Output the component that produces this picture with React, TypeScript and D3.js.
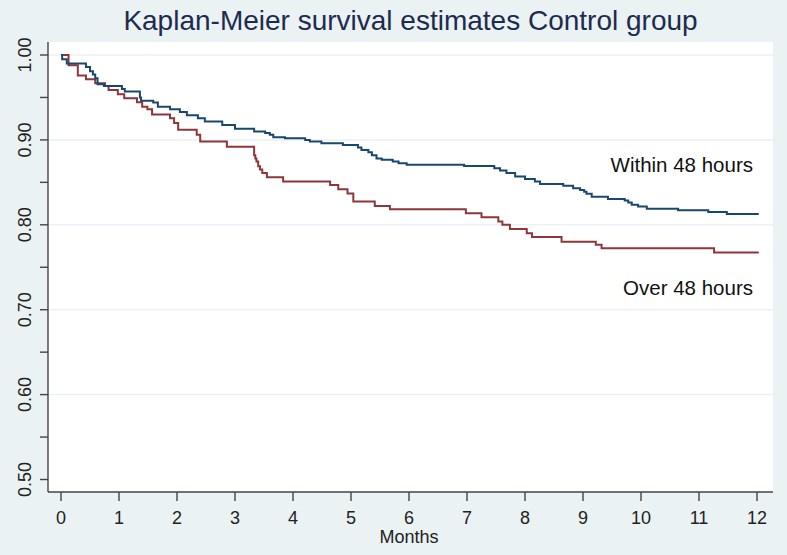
import React from "react";
import * as d3 from "d3";

const title = "Kaplan-Meier survival estimates Control group";
const xLabel = "Months";
const xTicks = [0, 1, 2, 3, 4, 5, 6, 7, 8, 9, 10, 11, 12];
const yTicks = [0.5, 0.6, 0.7, 0.8, 0.9, 1.0];
const yMinorTicks = [0.55, 0.65, 0.75, 0.85, 0.95];
const gridValues = [0.6, 0.7, 0.8, 0.9, 1.0];

const seriesNames = ["Within 48 hours", "Over 48 hours"];

// [month, survival after the step]
const withinSteps: [number, number][] = [
  [0, 1.0], [0.02, 0.995], [0.1, 0.99], [0.43, 0.986], [0.5, 0.981], [0.55, 0.977],
  [0.59, 0.9726], [0.63, 0.9655], [0.74, 0.9635], [1.05, 0.96], [1.1, 0.957],
  [1.36, 0.95], [1.38, 0.946], [1.59, 0.944], [1.67, 0.939], [1.88, 0.936],
  [2.05, 0.933], [2.17, 0.929], [2.36, 0.9255], [2.48, 0.9216], [2.78, 0.9176],
  [3.0, 0.913], [3.33, 0.91], [3.52, 0.908], [3.6, 0.906], [3.66, 0.903],
  [3.86, 0.902], [4.21, 0.9], [4.29, 0.898], [4.49, 0.896], [4.86, 0.894],
  [5.12, 0.891], [5.18, 0.888], [5.3, 0.8855], [5.36, 0.882], [5.44, 0.878],
  [5.53, 0.8765], [5.72, 0.8745], [5.82, 0.8725], [5.96, 0.8706], [6.95, 0.8694],
  [7.47, 0.8667], [7.57, 0.864], [7.68, 0.861], [7.83, 0.857], [8.0, 0.854],
  [8.17, 0.851], [8.26, 0.848], [8.66, 0.846], [8.83, 0.843], [8.95, 0.841],
  [9.02, 0.839], [9.06, 0.8365], [9.15, 0.833], [9.43, 0.8305], [9.72, 0.8286],
  [9.78, 0.8263], [9.84, 0.8235], [9.95, 0.8216], [10.1, 0.819], [10.64, 0.817],
  [11.16, 0.815], [11.48, 0.8126], [12.03, 0.8126],
];

const overSteps: [number, number][] = [
  [0, 1.0], [0.13, 0.988], [0.29, 0.976], [0.43, 0.9714], [0.59, 0.9667],
  [0.76, 0.9635], [0.82, 0.9588], [0.98, 0.9537], [1.09, 0.949], [1.31, 0.9443],
  [1.4, 0.939], [1.49, 0.936], [1.57, 0.93], [1.88, 0.9255], [1.95, 0.92],
  [2.02, 0.912], [2.34, 0.906], [2.4, 0.898], [2.86, 0.892], [3.33, 0.882],
  [3.35, 0.878], [3.37, 0.8745], [3.4, 0.869], [3.43, 0.865], [3.47, 0.861],
  [3.55, 0.856], [3.83, 0.851], [4.64, 0.847], [4.78, 0.842], [4.94, 0.837],
  [5.04, 0.8275], [5.41, 0.822], [5.67, 0.8184], [6.98, 0.8137], [7.25, 0.809],
  [7.54, 0.804], [7.61, 0.8], [7.74, 0.795], [8.03, 0.79], [8.12, 0.7855],
  [8.63, 0.78], [9.22, 0.7765], [9.32, 0.7725], [11.26, 0.7674], [12.03, 0.7674],
];

const W = 787;
const H = 555;
const plotLeft = 48;
const plotRight = 773;
const plotTop = 42;
const plotBottom = 492;

const BG = "#eaf2f3";
const FONT = "'Liberation Sans', Arial, sans-serif";
const NAVY = "#1a476f";
const MAROON = "#90353b";

export default function App() {
  const x = d3.scaleLinear().domain([0, 12]).range([61, 757]);
  const y = d3.scaleLinear().domain([0.5, 1.0]).range([479.5, 55]);
  const line = d3
    .line<[number, number]>()
    .x((d) => x(d[0]))
    .y((d) => y(d[1]))
    .curve(d3.curveStepAfter);

  return (
    <div style={{ position: "fixed", left: 0, top: 0 }}>
      <svg width={W} height={H} style={{ display: "block" }}>
        <rect x={0} y={0} width={W} height={H} fill={BG} />
        <rect
          x={plotLeft}
          y={plotTop}
          width={plotRight - plotLeft}
          height={plotBottom - plotTop}
          fill="#ffffff"
        />
        {gridValues.map((v) => (
          <line
            key={"g" + v}
            x1={plotLeft}
            x2={plotRight}
            y1={y(v)}
            y2={y(v)}
            stroke={BG}
            strokeWidth={1.5}
          />
        ))}
        <text
          x={(plotLeft + plotRight) / 2}
          y={30}
          textAnchor="middle"
          fontFamily={FONT}
          fontSize={28}
          fill="#1d2b50"
        >
          {title}
        </text>

        {/* y axis */}
        <line x1={plotLeft} x2={plotLeft} y1={plotTop} y2={plotBottom} stroke="#444" strokeWidth={1.4} />
        {yTicks.map((v) => (
          <g key={"yt" + v}>
            <line x1={plotLeft - 8} x2={plotLeft} y1={y(v)} y2={y(v)} stroke="#444" strokeWidth={1.4} />
            <text
              transform={`translate(31,${y(v)}) rotate(-90)`}
              textAnchor="middle"
              fontFamily={FONT}
              fontSize={18}
              fill="#222"
            >
              {v.toFixed(2)}
            </text>
          </g>
        ))}
        {yMinorTicks.map((v) => (
          <line key={"ym" + v} x1={plotLeft - 8} x2={plotLeft} y1={y(v)} y2={y(v)} stroke="#444" strokeWidth={1.4} />
        ))}

        {/* x axis */}
        <line x1={plotLeft} x2={plotRight} y1={plotBottom} y2={plotBottom} stroke="#444" strokeWidth={1.4} />
        {xTicks.map((v) => (
          <g key={"xt" + v}>
            <line x1={x(v)} x2={x(v)} y1={plotBottom} y2={plotBottom + 9} stroke="#444" strokeWidth={1.4} />
            <text
              x={x(v)}
              y={524}
              textAnchor="middle"
              fontFamily={FONT}
              fontSize={18}
              fill="#222"
            >
              {v}
            </text>
          </g>
        ))}
        <text x={x(6)} y={543} textAnchor="middle" fontFamily={FONT} fontSize={18} fill="#222">
          {xLabel}
        </text>

        <path d={line(overSteps) || ""} fill="none" stroke={MAROON} strokeWidth={2} />
        <path d={line(withinSteps) || ""} fill="none" stroke={NAVY} strokeWidth={2} />

        <text x={753} y={172} textAnchor="end" fontFamily={FONT} fontSize={20.5} fill="#111">
          {seriesNames[0]}
        </text>
        <text x={753} y={295} textAnchor="end" fontFamily={FONT} fontSize={20.5} fill="#111">
          {seriesNames[1]}
        </text>
      </svg>
    </div>
  );
}
